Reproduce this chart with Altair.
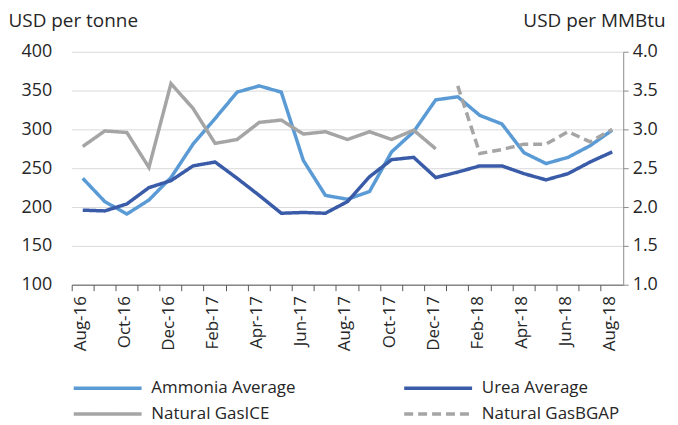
import altair as alt
import pandas as pd

months = ["Aug-16", "Sep-16", "Oct-16", "Nov-16", "Dec-16", "Jan-17", "Feb-17",
          "Mar-17", "Apr-17", "May-17", "Jun-17", "Jul-17", "Aug-17", "Sep-17",
          "Oct-17", "Nov-17", "Dec-17", "Jan-18", "Feb-18", "Mar-18", "Apr-18",
          "May-18", "Jun-18", "Jul-18", "Aug-18"]

ammonia = [237, 207, 191, 209, 238, 281, 314, 348, 356, 348, 260, 215, 210,
           220, 271, 297, 338, 342, 318, 307, 270, 256, 264, 279, 299]
urea = [196, 195, 204, 225, 234, 253, 258, 237, 215, 192, 193, 192, 207,
        239, 261, 264, 238, 245, 253, 253, 243, 235, 243, 258, 271]
gas_ice = [2.78, 2.98, 2.96, 2.51, 3.59, 3.27, 2.82, 2.87, 3.09, 3.12, 2.94,
           2.97, 2.87, 2.97, 2.87, 2.99, 2.75] + [None] * 8
gas_bgap = [None] * 17 + [3.56, 2.69, 2.74, 2.81, 2.81, 2.97, 2.84, 3.00]

# legend fills column by column, so this order gives the reference's rows
series_names = ["Ammonia Average", "Natural GasICE", "Urea Average", "Natural GasBGAP"]
series_colors = ["#5B9BD5", "#A5A5A5", "#3A5BA8", "#A5A5A5"]
series_dash = [[1, 0], [1, 0], [1, 0], [9, 5]]

shown_labels = months[::2]

FONT = "Open Sans"
TXT = "#262626"


def long(name, vals):
    return [{"month": m, "series": name, "value": v}
            for m, v in zip(months, vals) if v is not None]


df_left = pd.DataFrame(long("Ammonia Average", ammonia) + long("Urea Average", urea))
df_right = pd.DataFrame(long("Natural GasICE", gas_ice) + long("Natural GasBGAP", gas_bgap))

label_expr = "indexof(" + str(shown_labels) + ", datum.value) >= 0 ? datum.value : ''"

x_enc = alt.X(
    "month:N", sort=months, title=None,
    scale=alt.Scale(type="band", paddingInner=0, paddingOuter=0),
    axis=alt.Axis(
        bandPosition=0, labelOffset=-2, labelAngle=-90, labelAlign="right",
        labelBaseline="middle", labelExpr=label_expr, labelFontSize=17,
        labelPadding=5, tickSize=6, ticks=True, domainColor="#595959",
        tickColor="#595959", labelColor=TXT, labelFont=FONT, grid=False,
    ),
)

legend = alt.Legend(
    title=None, orient="none", legendX=0, legendY=325, columns=2,
    symbolType="M-1,0H5.2", symbolSize=484, symbolStrokeWidth=3.5,
    labelOffset=54, labelFontSize=17, labelFont=FONT, labelColor=TXT,
    columnPadding=102, rowPadding=5,
)

color_enc = alt.Color("series:N", scale=alt.Scale(domain=series_names, range=series_colors),
                      legend=legend)
dash_enc = alt.StrokeDash("series:N", scale=alt.Scale(domain=series_names, range=series_dash),
                          legend=legend)

left = alt.Chart(df_left).mark_line(strokeWidth=3.5).encode(
    x=x_enc,
    y=alt.Y("value:Q", scale=alt.Scale(domain=[100, 400]),
            axis=alt.Axis(orient="left", values=[100, 150, 200, 250, 300, 350, 400],
                          format="d", title="USD per tonne", titleAngle=0,
                          titleAlign="left", titleBaseline="top", titleX=-64,
                          titleY=-40, titleFontSize=19, titleFontWeight="normal",
                          titleFont=FONT, titleColor=TXT,
                          domain=False, ticks=False, labelPadding=20,
                          labelFontSize=18, labelFont=FONT, labelColor=TXT,
                          grid=True, gridColor="#D9D9D9", gridWidth=1)),
    color=color_enc,
    strokeDash=dash_enc,
)

right = alt.Chart(df_right).mark_line(strokeWidth=3.5).encode(
    x=x_enc,
    y=alt.Y("value:Q", scale=alt.Scale(domain=[1, 4]),
            axis=alt.Axis(orient="right", values=[1.0, 1.5, 2.0, 2.5, 3.0, 3.5, 4.0],
                          format=".1f", title="USD per MMBtu", titleAngle=0,
                          titleAlign="right", titleBaseline="top", titleX=42,
                          titleY=-40, titleFontSize=19, titleFontWeight="normal",
                          titleFont=FONT, titleColor=TXT,
                          domain=True, domainColor="#8C8C8C", ticks=True,
                          tickColor="#8C8C8C", tickSize=5, labelPadding=4,
                          labelFontSize=18, labelFont=FONT, labelColor=TXT,
                          grid=False)),
    color=color_enc,
    strokeDash=dash_enc,
)

chart = alt.layer(left, right).resolve_scale(y="independent").properties(
    width=554, height=234,
    padding={"left": 0, "top": 3, "right": 5, "bottom": 0},
).configure_view(stroke=None)

chart.save("out.html", embed_options={"renderer": "svg", "actions": False})
